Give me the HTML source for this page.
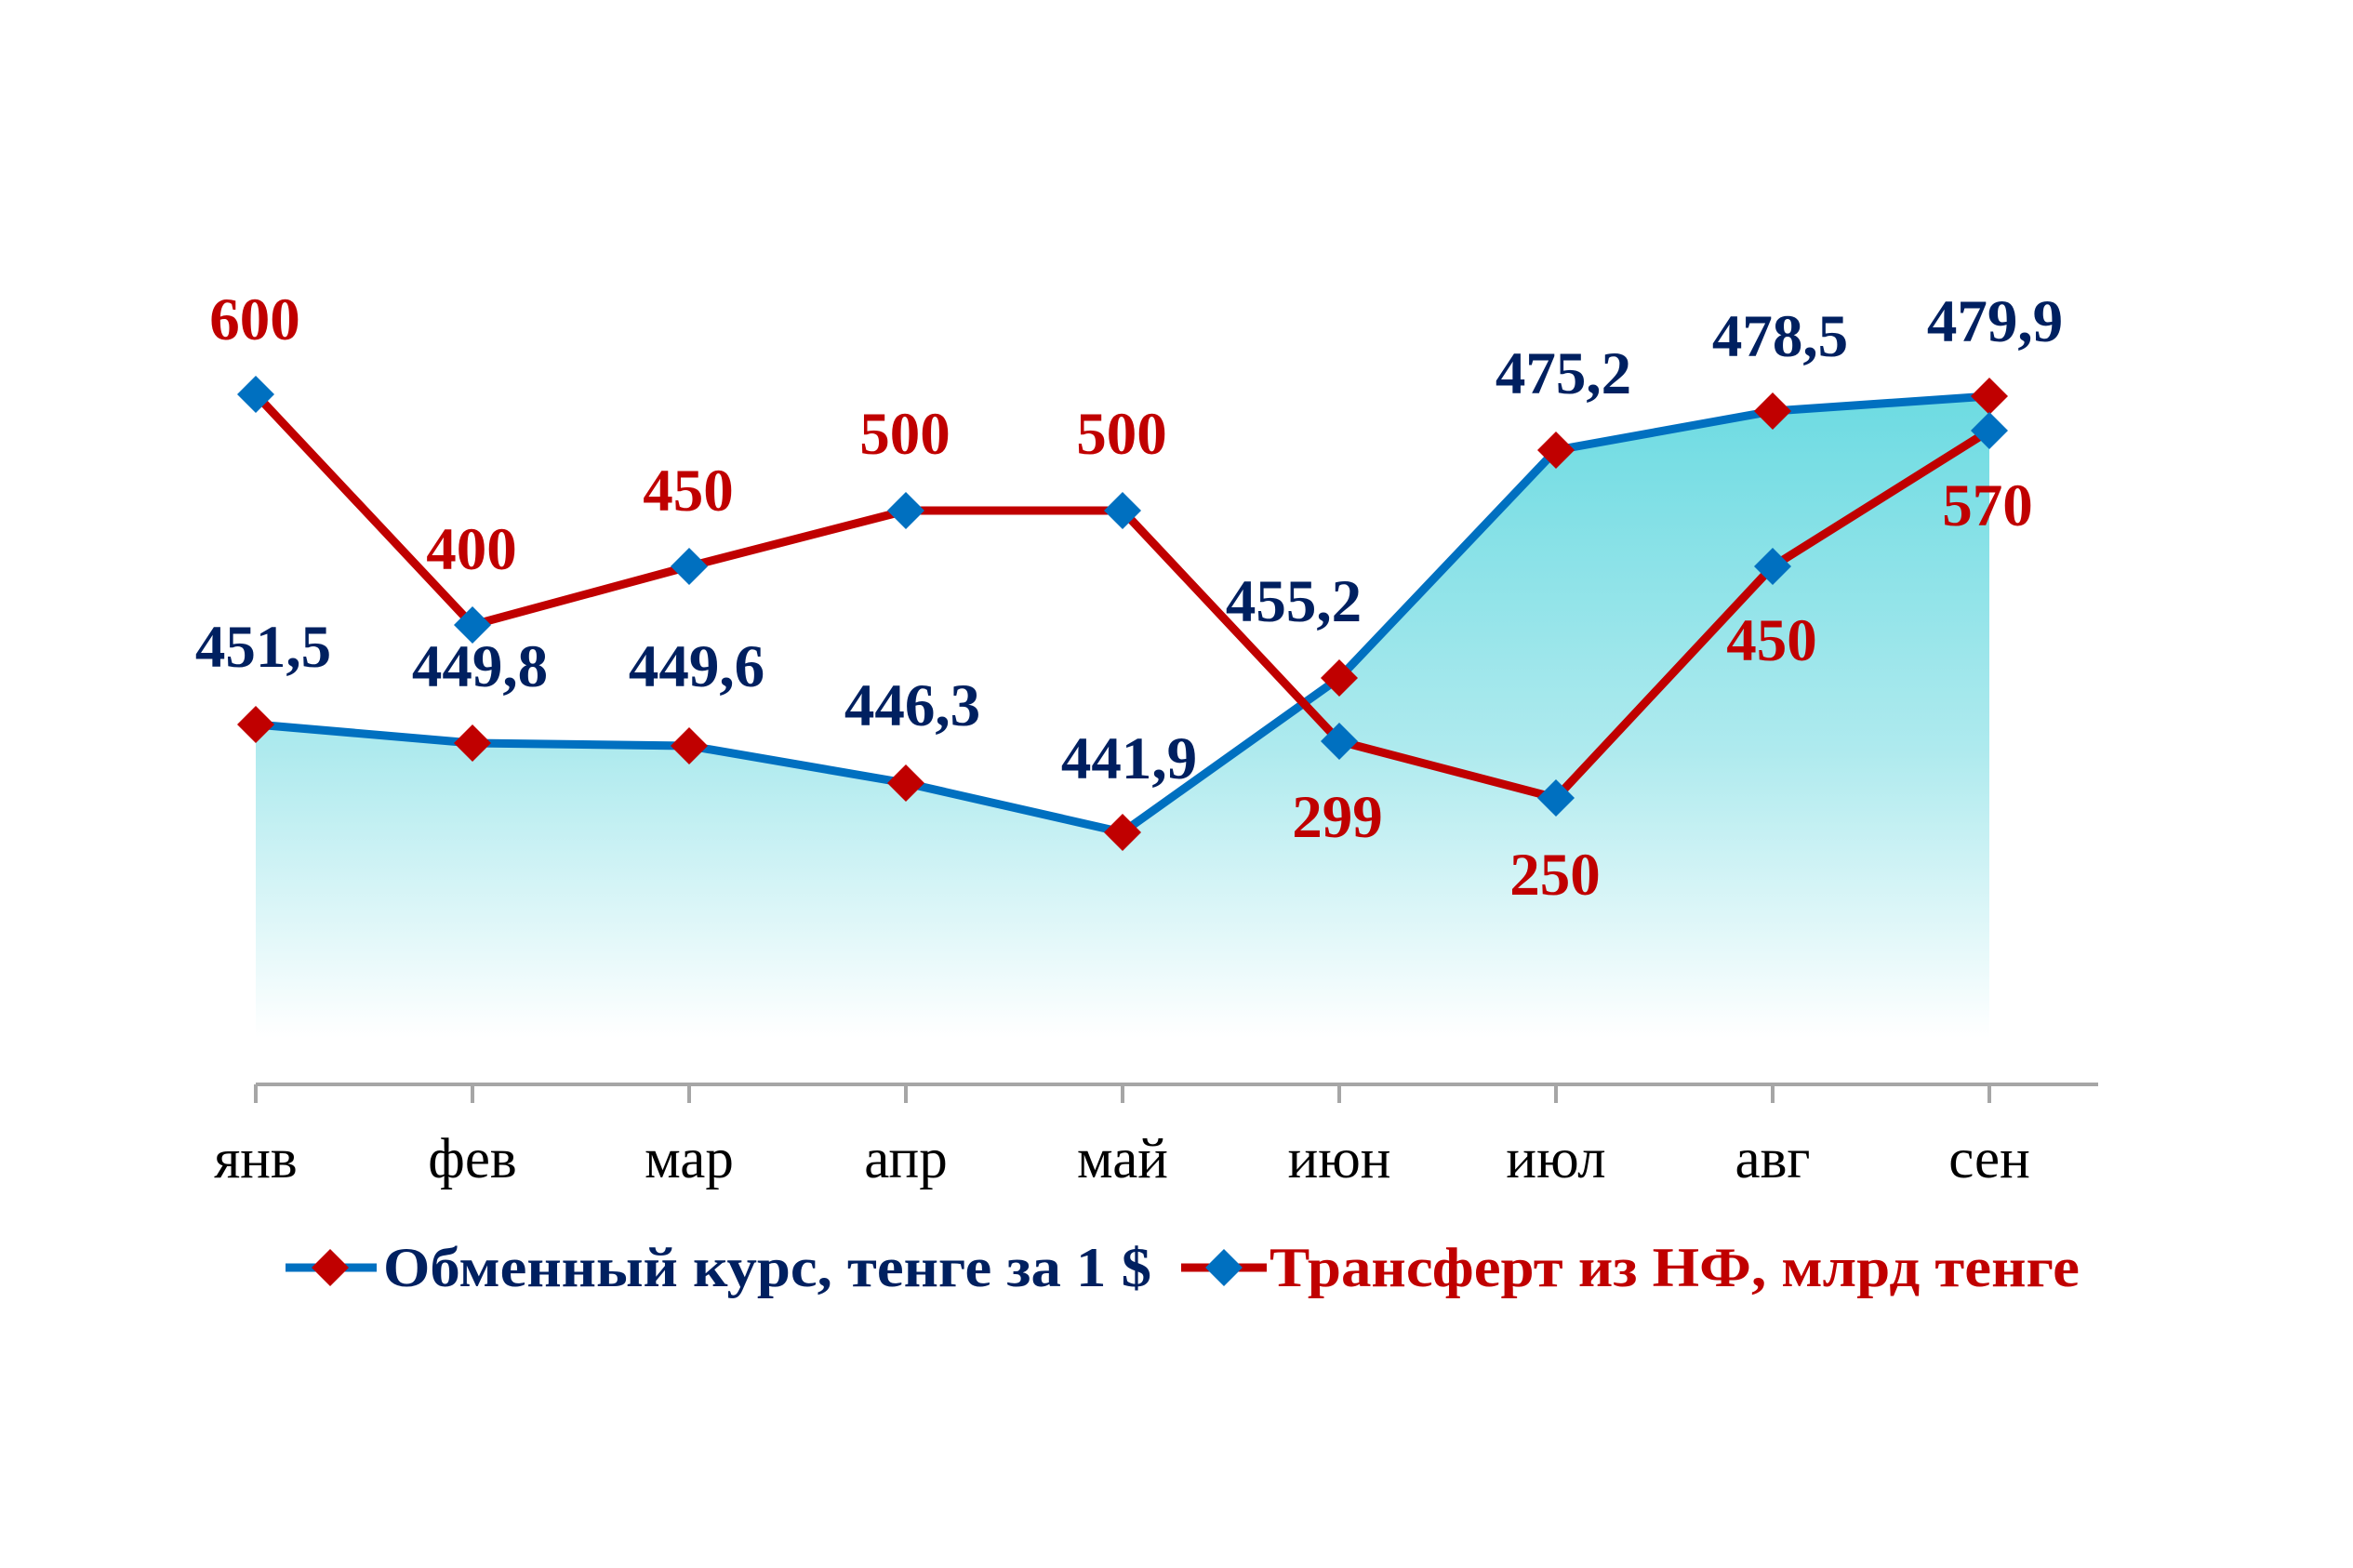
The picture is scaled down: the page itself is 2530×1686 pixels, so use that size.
<!DOCTYPE html>
<html><head><meta charset="utf-8"><style>html,body{margin:0;padding:0;background:#fff}svg{display:block}</style></head><body>
<svg width="2530" height="1686" viewBox="0 0 2530 1686" xmlns="http://www.w3.org/2000/svg">
<defs>
<linearGradient id="g" x1="0" y1="426" x2="0" y2="1116" gradientUnits="userSpaceOnUse">
<stop offset="0" stop-color="#6ddbe2"/><stop offset="0.55" stop-color="#aeeaee"/><stop offset="1" stop-color="#ffffff"/>
</linearGradient>
<path id="d" d="M0,-20 L20,0 L0,20 L-20,0 Z"/>
</defs>
<polygon fill="url(#g)" points="275,779 508,799 741,802 974,842 1207,895 1440,729 1673,484 1906,442 2139,426 2139,1116 275,1116"/>
<line x1="275" y1="1166" x2="2256" y2="1166" stroke="#a6a6a6" stroke-width="4"/>
<g stroke="#a6a6a6" stroke-width="4">
<line x1="275" y1="1166" x2="275" y2="1186"/><line x1="508" y1="1166" x2="508" y2="1186"/><line x1="741" y1="1166" x2="741" y2="1186"/><line x1="974" y1="1166" x2="974" y2="1186"/><line x1="1207" y1="1166" x2="1207" y2="1186"/><line x1="1440" y1="1166" x2="1440" y2="1186"/><line x1="1673" y1="1166" x2="1673" y2="1186"/><line x1="1906" y1="1166" x2="1906" y2="1186"/><line x1="2139" y1="1166" x2="2139" y2="1186"/>
</g>
<polyline fill="none" stroke="#0070c0" stroke-width="9" stroke-linejoin="round" points="275,779 508,799 741,802 974,842 1207,895 1440,729 1673,484 1906,442 2139,426"/>
<polyline fill="none" stroke="#c00000" stroke-width="9" stroke-linejoin="round" points="275,424 508,672 741,609 974,549 1207,549 1440,797 1673,858 1906,609 2139,463"/>
<g fill="#c00000">
<use href="#d" x="275" y="779"/><use href="#d" x="508" y="799"/><use href="#d" x="741" y="802"/><use href="#d" x="974" y="842"/><use href="#d" x="1207" y="895"/><use href="#d" x="1440" y="729"/><use href="#d" x="1673" y="484"/><use href="#d" x="1906" y="442"/><use href="#d" x="2139" y="426"/>
</g>
<g fill="#0070c0">
<use href="#d" x="275" y="424"/><use href="#d" x="508" y="672"/><use href="#d" x="741" y="609"/><use href="#d" x="974" y="549"/><use href="#d" x="1207" y="549"/><use href="#d" x="1440" y="797"/><use href="#d" x="1673" y="858"/><use href="#d" x="1906" y="609"/><use href="#d" x="2139" y="463"/>
</g>
<g font-family="Liberation Serif, serif" font-weight="bold" font-size="65" text-anchor="middle" fill="#002060">
<text x="283" y="717">451,5</text><text x="516" y="738">449,8</text><text x="749" y="738">449,6</text><text x="981" y="780">446,3</text><text x="1214" y="837">441,9</text><text x="1391" y="668">455,2</text><text x="1681" y="423">475,2</text><text x="1914" y="383">478,5</text><text x="2145" y="367">479,9</text>
</g>
<g font-family="Liberation Serif, serif" font-weight="bold" font-size="65" text-anchor="middle" fill="#c00000">
<text x="274" y="365">600</text><text x="507" y="612">400</text><text x="740" y="549">450</text><text x="973" y="488">500</text><text x="1206" y="488">500</text><text x="1438" y="900">299</text><text x="1672" y="962">250</text><text x="1905" y="710">450</text><text x="2137" y="565">570</text>
</g>
<g font-family="Liberation Serif, serif" font-size="61" text-anchor="middle" fill="#000">
<text x="275" y="1266">янв</text><text x="508" y="1266">фев</text><text x="741" y="1266">мар</text><text x="974" y="1266">апр</text><text x="1207" y="1266">май</text><text x="1440" y="1266">июн</text><text x="1673" y="1266">июл</text><text x="1906" y="1266">авг</text><text x="2139" y="1266">сен</text>
</g>
<line x1="307" y1="1363" x2="405" y2="1363" stroke="#0070c0" stroke-width="9"/>
<use href="#d" x="355" y="1363" fill="#c00000"/>
<line x1="1270" y1="1363" x2="1362" y2="1363" stroke="#c00000" stroke-width="9"/>
<use href="#d" x="1316" y="1363" fill="#0070c0"/>
<text x="412" y="1383" font-family="Liberation Serif, serif" font-weight="bold" font-size="60" fill="#002060" textLength="826" lengthAdjust="spacingAndGlyphs">Обменный курс, тенге за 1 $</text>
<text x="1365" y="1383" font-family="Liberation Serif, serif" font-weight="bold" font-size="60" fill="#c00000" textLength="871" lengthAdjust="spacingAndGlyphs">Трансферт из НФ, млрд тенге</text>
</svg>
</body></html>
